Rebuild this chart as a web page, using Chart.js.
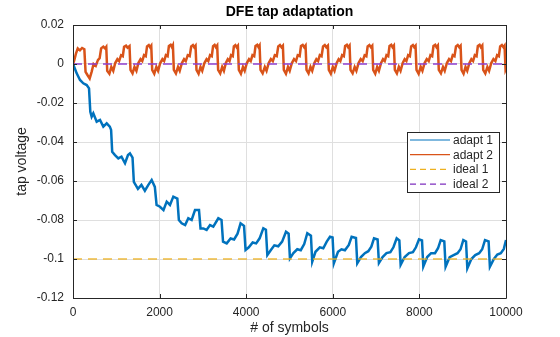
<!DOCTYPE html>
<html>
<head>
<meta charset="utf-8">
<script src="https://cdn.jsdelivr.net/npm/chart.js@4"></script>
<style>
  html, body { margin: 0; padding: 0; background: #ffffff; }
  #wrap { width: 560px; height: 337px; }
</style>
</head>
<body>
<div id="wrap"><canvas id="tapChart" width="560" height="337"></canvas></div>
<script>
// values
const xTicks = [0, 2000, 4000, 6000, 8000, 10000];
const yTicks = [0.02, 0, -0.02, -0.04, -0.06, -0.08, -0.1, -0.12];
const seriesNames = ['adapt 1', 'adapt 2', 'ideal 1', 'ideal 2'];

// adapt 1 (blue)
const adapt1X = [
    0, 40, 85, 162, 238, 316, 370, 400, 431, 469, 547, 624, 700, 778, 850, 880,
    905, 970, 1046, 1120, 1201, 1270, 1316, 1375,
    1405, 1500, 1580, 1660, 1740, 1817, 1890,
    1930, 2009, 2090, 2164, 2240, 2317, 2410,
    2445, 2510, 2590, 2663, 2740, 2818, 2910,
    2945, 3009, 3086, 3164, 3240, 3356, 3430,
    3465, 3550, 3640, 3720, 3800, 3870, 3950,
    3985, 4060, 4150, 4230, 4310, 4395, 4455,
    4488, 4570, 4650, 4740, 4830, 4919, 4980,
    5010, 5090, 5180, 5260, 5340, 5411, 5495,
    5525, 5600, 5700, 5780, 5860, 5935, 5995,
    6025, 6120, 6200, 6280, 6370, 6435, 6535,
    6565, 6650, 6740, 6820, 6890, 6952, 7035,
    7065, 7150, 7240, 7330, 7400, 7475, 7537,
    7567, 7660, 7760, 7850, 7920, 7991, 8060,
    8090, 8180, 8270, 8360, 8430, 8492, 8575,
    8605, 8700, 8790, 8880, 8950, 9014, 9077,
    9107, 9200, 9290, 9380, 9450, 9515, 9598,
    9628, 9720, 9800, 9880, 9950, 10000
];
const adapt1Y = [
    0, -0.0022, -0.0048, -0.0082, -0.0099, -0.0108, -0.0125, -0.0245, -0.027, -0.0253, -0.0296, -0.0287, -0.0321, -0.0304, -0.0321, -0.0338,
    -0.045, -0.0467, -0.0484, -0.0475, -0.0509, -0.0467, -0.0458, -0.048,
    -0.0604, -0.064, -0.062, -0.065, -0.062, -0.0595, -0.063,
    -0.0723, -0.0732, -0.0749, -0.0706, -0.0723, -0.068, -0.069,
    -0.080, -0.0817, -0.0826, -0.0791, -0.080, -0.0749, -0.0749,
    -0.0843, -0.0843, -0.0851, -0.0826, -0.0834, -0.0791, -0.080,
    -0.0911, -0.092, -0.0895, -0.090, -0.087, -0.0817, -0.083,
    -0.0954, -0.094, -0.0915, -0.092, -0.0894, -0.0843, -0.085,
    -0.098, -0.0954, -0.093, -0.0935, -0.0911, -0.086, -0.087,
    -0.0997, -0.097, -0.095, -0.0955, -0.0923, -0.0868, -0.088,
    -0.1014, -0.0963, -0.094, -0.0945, -0.0911, -0.0886, -0.089,
    -0.1022, -0.0963, -0.095, -0.0955, -0.0928, -0.0886, -0.0892,
    -0.1022, -0.099, -0.097, -0.096, -0.0937, -0.0894, -0.090,
    -0.102, -0.099, -0.097, -0.0965, -0.094, -0.0894, -0.0905,
    -0.103, -0.099, -0.097, -0.0965, -0.094, -0.0899, -0.0905,
    -0.1039, -0.099, -0.097, -0.097, -0.0945, -0.0903, -0.091,
    -0.104, -0.099, -0.098, -0.097, -0.095, -0.0903, -0.091,
    -0.1048, -0.100, -0.098, -0.097, -0.095, -0.0903, -0.091,
    -0.104, -0.100, -0.0977, -0.097, -0.0948, -0.0903
];

// adapt 2 (orange)
const adapt2X = [
    0, 30, 70, 110, 160, 210, 262, 290, 330, 385, 430, 475, 525, 575, 615, 650, 700, 740, 768,
    790, 840, 885, 930, 975, 1025, 1065, 1110, 1150, 1180, 1225, 1260, 1305,
    1328, 1375, 1420, 1465, 1510, 1560, 1600, 1640, 1680, 1710, 1750, 1780, 1807,
    1829, 1877, 1925, 1965, 2015, 2065, 2105, 2145, 2185, 2215, 2255, 2285, 2307,
    2329, 2377, 2425, 2465, 2515, 2565, 2605, 2650, 2695, 2730, 2770, 2800, 2830,
    2852, 2900, 2945, 2985, 3035, 3085, 3125, 3165, 3205, 3235, 3270, 3300, 3330,
    3352, 3400, 3445, 3485, 3530, 3575, 3615, 3650, 3690, 3715, 3750, 3780, 3808,
    3830, 3878, 3925, 3965, 4015, 4065, 4105, 4145, 4185, 4215, 4255, 4285, 4309,
    4331, 4380, 4430, 4470, 4520, 4570, 4615, 4660, 4705, 4740, 4780, 4815, 4847,
    4869, 4918, 4965, 5005, 5055, 5105, 5150, 5190, 5235, 5265, 5305, 5340, 5371,
    5393, 5440, 5485, 5525, 5575, 5620, 5660, 5700, 5740, 5775, 5815, 5850, 5886,
    5908, 5955, 6000, 6040, 6090, 6135, 6175, 6215, 6255, 6285, 6325, 6355, 6387,
    6409, 6458, 6505, 6545, 6595, 6645, 6690, 6735, 6775, 6805, 6845, 6880, 6911,
    6933, 6980, 7025, 7065, 7115, 7160, 7200, 7240, 7280, 7310, 7350, 7380, 7411,
    7433, 7480, 7525, 7565, 7615, 7660, 7700, 7740, 7780, 7810, 7850, 7880, 7911,
    7933, 7982, 8030, 8070, 8120, 8170, 8215, 8255, 8295, 8325, 8365, 8395, 8426,
    8448, 8497, 8545, 8585, 8635, 8685, 8730, 8770, 8810, 8845, 8885, 8920, 8951,
    8973, 9020, 9065, 9105, 9155, 9200, 9240, 9280, 9320, 9350, 9390, 9420, 9452,
    9474, 9522, 9570, 9610, 9660, 9710, 9755, 9795, 9835, 9865, 9905, 9940, 9967,
    9990, 10000
];
const adapt2Y = [
    0, 0.002, 0.0055, 0.008, 0.007, 0.0082, 0.0076, -0.004, -0.0055, -0.0074, -0.004, 0, -0.001, 0.002, 0.003, 0.008, 0.0089, 0.008, 0.0088,
    -0.0035, -0.005, -0.0015, -0.0035, 0.0005, 0.0025, 0.0015, 0.0045, 0.004, 0.0088, 0.0094, 0.0084, 0.0092,
    -0.003, -0.0048, -0.0015, -0.0035, 0.0005, 0.0025, 0.0015, 0.0045, 0.004, 0.009, 0.0097, 0.0086, 0.0094,
    -0.003, -0.005, -0.0015, -0.0035, 0.0005, 0.0025, 0.0015, 0.0045, 0.004, 0.0092, 0.0098, 0.0086, 0.0096,
    -0.003, -0.0048, -0.0015, -0.0035, 0.0005, 0.0025, 0.0015, 0.0045, 0.004, 0.009, 0.0097, 0.0086, 0.0094,
    -0.003, -0.005, -0.0015, -0.0035, 0.0005, 0.0025, 0.0015, 0.0045, 0.004, 0.0092, 0.0098, 0.0086, 0.0095,
    -0.003, -0.0048, -0.0015, -0.0035, 0.0005, 0.0025, 0.0015, 0.0045, 0.004, 0.009, 0.0097, 0.0086, 0.0094,
    -0.003, -0.005, -0.0015, -0.0035, 0.0005, 0.0025, 0.0015, 0.0045, 0.004, 0.0092, 0.0098, 0.0086, 0.0095,
    -0.003, -0.0048, -0.0015, -0.0035, 0.0005, 0.0025, 0.0015, 0.0045, 0.004, 0.009, 0.0097, 0.0086, 0.0094,
    -0.003, -0.005, -0.0015, -0.0035, 0.0005, 0.0025, 0.0015, 0.0045, 0.004, 0.0092, 0.0098, 0.0086, 0.0095,
    -0.003, -0.0048, -0.0015, -0.0035, 0.0005, 0.0025, 0.0015, 0.0045, 0.004, 0.009, 0.0097, 0.0086, 0.0094,
    -0.003, -0.005, -0.0015, -0.0035, 0.0005, 0.0025, 0.0015, 0.0045, 0.004, 0.0092, 0.0098, 0.0086, 0.0095,
    -0.003, -0.0048, -0.0015, -0.0035, 0.0005, 0.0025, 0.0015, 0.0045, 0.004, 0.009, 0.0097, 0.0086, 0.0094,
    -0.003, -0.005, -0.0015, -0.0035, 0.0005, 0.0025, 0.0015, 0.0045, 0.004, 0.0092, 0.0098, 0.0086, 0.0095,
    -0.003, -0.0048, -0.0015, -0.0035, 0.0005, 0.0025, 0.0015, 0.0045, 0.004, 0.009, 0.0097, 0.0086, 0.0094,
    -0.003, -0.005, -0.0015, -0.0035, 0.0005, 0.0025, 0.0015, 0.0045, 0.004, 0.0092, 0.0098, 0.0086, 0.0095,
    -0.003, -0.0048, -0.0015, -0.0035, 0.0005, 0.0025, 0.0015, 0.0045, 0.004, 0.009, 0.0097, 0.0086, 0.0094,
    -0.003, -0.005, -0.0015, -0.0035, 0.0005, 0.0025, 0.0015, 0.0045, 0.004, 0.0092, 0.0098, 0.0086, 0.0095,
    -0.003, -0.0048, -0.0015, -0.0035, 0.0005, 0.0025, 0.0015, 0.0045, 0.004, 0.009, 0.0097, 0.0086, 0.0094,
    -0.003, -0.0025
];

// ideal taps (flat)
const idealX = [0, 10000];
const ideal1Y = [-0.1, -0.1];
const ideal2Y = [0, 0];

const FONT = "'Liberation Sans', Arial, sans-serif";
const INK = '#262626';
const colors = ['#0072BD', '#D95319', 'rgba(237,177,32,0.65)', 'rgba(142,63,208,0.75)'];
const legendColors = ['#0072BD', '#D95319', '#EDB120', '#7E2FBE'];

function toPoints(xs, ys) {
    return xs.map((x, i) => ({ x: x, y: ys[i] }));
}

/**
 * Draws title, axis labels, inward ticks, box and legend (MATLAB look)
 */
const decorations = {
    id: 'decorations',
    afterDraw(chart) {
        const ctx = chart.ctx;
        const a = chart.chartArea;
        const xs = chart.scales.x;
        const ys = chart.scales.y;
        ctx.save();

        // box + inward ticks
        ctx.strokeStyle = INK;
        ctx.lineWidth = 1;
        ctx.beginPath();
        ctx.rect(Math.round(a.left) + 0.5, Math.round(a.top) + 0.5,
                 Math.round(a.right - a.left), Math.round(a.bottom - a.top));
        const tl = 4;
        xTicks.forEach(v => {
            const px = Math.round(xs.getPixelForValue(v)) + 0.5;
            ctx.moveTo(px, a.bottom); ctx.lineTo(px, a.bottom - tl);
            ctx.moveTo(px, a.top); ctx.lineTo(px, a.top + tl);
        });
        yTicks.forEach(v => {
            const py = Math.round(ys.getPixelForValue(v)) + 0.5;
            ctx.moveTo(a.left, py); ctx.lineTo(a.left + tl, py);
            ctx.moveTo(a.right, py); ctx.lineTo(a.right - tl, py);
        });
        ctx.stroke();

        // title and axis labels
        ctx.fillStyle = '#000000';
        ctx.textAlign = 'center';
        ctx.textBaseline = 'middle';
        ctx.font = 'bold 14px ' + FONT;
        ctx.fillText('DFE tap adaptation', (a.left + a.right) / 2, 12);
        ctx.fillStyle = INK;
        ctx.font = '14px ' + FONT;
        ctx.fillText('# of symbols', (a.left + a.right) / 2, 328);
        ctx.save();
        ctx.translate(22, (a.top + a.bottom) / 2);
        ctx.rotate(-Math.PI / 2);
        ctx.fillText('tap voltage', 0, 0);
        ctx.restore();

        // legend
        const lx = 407.5, ly = 132.5, lw = 92, lh = 60;
        ctx.fillStyle = '#ffffff';
        ctx.fillRect(lx, ly, lw, lh);
        ctx.strokeStyle = INK;
        ctx.strokeRect(lx, ly, lw, lh);
        ctx.font = '12px ' + FONT;
        ctx.textAlign = 'left';
        const dashes = [[], [], [6, 4], [6, 4]];
        seriesNames.forEach((name, i) => {
            const y = 140 + i * 14.7;
            ctx.strokeStyle = legendColors[i];
            ctx.lineWidth = 1.2;
            ctx.setLineDash(dashes[i]);
            ctx.beginPath();
            ctx.moveTo(410, y); ctx.lineTo(450, y);
            ctx.stroke();
            ctx.setLineDash([]);
            ctx.fillStyle = INK;
            ctx.fillText(name, 453, y + 0.5);
        });
        ctx.restore();
    }
};

const canvas = document.getElementById('tapChart');
const ctx = canvas.getContext('2d');

const tapChart = new Chart(ctx, {
    type: 'line',
    data: {
        datasets: [
            {
                label: seriesNames[0],
                data: toPoints(adapt1X, adapt1Y),
                borderColor: colors[0],
                borderWidth: 2.5,
                pointRadius: 0,
                tension: 0,
                order: 3
            },
            {
                label: seriesNames[1],
                data: toPoints(adapt2X, adapt2Y),
                borderColor: colors[1],
                borderWidth: 2.5,
                pointRadius: 0,
                tension: 0,
                order: 2
            },
            {
                label: seriesNames[2],
                data: toPoints(idealX, ideal1Y),
                borderColor: colors[2],
                borderWidth: 2,
                borderDash: [9, 6],
                pointRadius: 0,
                order: 1
            },
            {
                label: seriesNames[3],
                data: toPoints(idealX, ideal2Y),
                borderColor: colors[3],
                borderWidth: 2,
                borderDash: [9, 6],
                pointRadius: 0,
                order: 0
            }
        ]
    },
    options: {
        responsive: false,
        animation: false,
        devicePixelRatio: 1,
        layout: { padding: { left: 0, right: 54, top: 25, bottom: 0 } },
        plugins: {
            legend: { display: false },
            title: { display: false },
            tooltip: { enabled: false }
        },
        scales: {
            x: {
                type: 'linear',
                min: 0,
                max: 10000,
                afterBuildTicks: (scale) => { scale.ticks = xTicks.map(v => ({ value: v })); },
                afterFit: (scale) => { scale.height = 39; },
                border: { display: false },
                grid: { color: '#DFDFDF', lineWidth: 1, drawTicks: false },
                ticks: {
                    color: INK,
                    padding: 7,
                    maxRotation: 0,
                    font: { family: FONT, size: 12 },
                    callback: (v) => String(v)
                }
            },
            y: {
                type: 'linear',
                min: -0.12,
                max: 0.02,
                afterBuildTicks: (scale) => { scale.ticks = yTicks.map(v => ({ value: v })); },
                afterFit: (scale) => { scale.width = 73; },
                border: { display: false },
                grid: { color: '#DFDFDF', lineWidth: 1, drawTicks: false },
                ticks: {
                    color: INK,
                    padding: 9,
                    font: { family: FONT, size: 12 },
                    callback: (v) => (v === 0 ? '0' : String(Math.round(v * 100) / 100))
                }
            }
        }
    },
    plugins: [decorations]
});
</script>
</body>
</html>
